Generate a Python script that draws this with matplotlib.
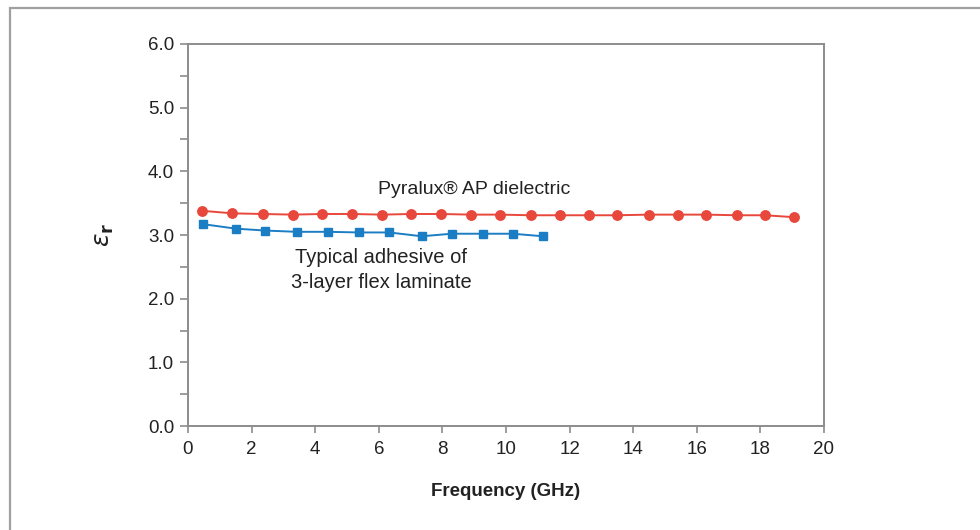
import matplotlib
matplotlib.use("Agg")
import matplotlib.pyplot as plt
from matplotlib import font_manager
from matplotlib.patches import Rectangle

# Pyralux AP dielectric (red circles)
pyralux_freq = [0.45, 1.4, 2.35, 3.3, 4.2, 5.15, 6.1, 7.0, 7.95, 8.9, 9.8,
                10.8, 11.7, 12.6, 13.5, 14.5, 15.4, 16.3, 17.25, 18.15, 19.05]
pyralux_er = [3.38, 3.34, 3.33, 3.32, 3.33, 3.33, 3.32, 3.33, 3.33, 3.32, 3.32,
              3.31, 3.31, 3.31, 3.31, 3.32, 3.32, 3.32, 3.31, 3.31, 3.28]

# typical adhesive (blue squares)
adhesive_freq = [0.48, 1.5, 2.42, 3.42, 4.39, 5.39, 6.33, 7.35, 8.29, 9.27, 10.21, 11.17]
adhesive_er = [3.17, 3.10, 3.07, 3.05, 3.05, 3.04, 3.04, 2.98, 3.02, 3.02, 3.02, 2.98]

x_ticks = list(range(0, 21, 2))
y_ticks = [0.0, 1.0, 2.0, 3.0, 4.0, 5.0, 6.0]

available = {f.name for f in font_manager.fontManager.ttflist}
narrow = "Liberation Sans Narrow" if "Liberation Sans Narrow" in available else "Liberation Sans"
plt.rcParams["font.family"] = [narrow, "DejaVu Sans"]

red = "#e8473b"
blue = "#1b7dc4"
gray = "#8c8c8c"

fig = plt.figure(figsize=(9.8, 5.3), dpi=100)
ax = fig.add_axes([0.1918, 0.1962, 0.649, 0.7208])

# outer frame of the figure (only left/top edges visible)
fig.patches.append(Rectangle((0.0105, -0.05), 1.2, 1.035, transform=fig.transFigure,
                             fill=False, edgecolor="#a0a0a0", linewidth=1.6))

ax.plot(pyralux_freq, pyralux_er, color=red, marker="o", markersize=6.8,
        linewidth=1.4, zorder=3)
ax.plot(adhesive_freq, adhesive_er, color=blue, marker="s", markersize=5.2,
        linewidth=1.4, zorder=3)

ax.set_xlim(0, 20)
ax.set_ylim(0, 6)
ax.set_xticks(x_ticks)
ax.set_xticklabels([str(t) for t in x_ticks])
ax.set_yticks(y_ticks)
ax.set_yticklabels([f"{t:.1f}" for t in y_ticks])
ax.set_yticks([0.5, 1.5, 2.5, 3.5, 4.5, 5.5], minor=True)

for s in ax.spines.values():
    s.set_color(gray)
    s.set_linewidth(1.4)

ax.tick_params(axis="both", which="both", direction="out", color=gray, width=1.2,
               labelsize=13.5, labelcolor="#222222")
ax.tick_params(axis="y", which="major", length=6, pad=4)
ax.tick_params(axis="y", which="minor", length=6)
ax.tick_params(axis="x", which="major", length=5, pad=6)

ax.set_xlabel("Frequency (GHz)", fontsize=13.5, fontweight="bold", color="#222222", labelpad=18)
ax.set_ylabel(r"$\varepsilon_\mathbf{r}$", fontsize=18, color="#222222", labelpad=23)

ax.text(9.0, 3.72, "Pyralux\u00ae AP dielectric", fontsize=14, color="#222222",
        ha="center", va="center")
ax.text(6.07, 2.45, "Typical adhesive of\n3-layer flex laminate", fontsize=14.5,
        color="#222222", ha="center", va="center", linespacing=1.45)

fig.savefig("out.png", dpi=100)
